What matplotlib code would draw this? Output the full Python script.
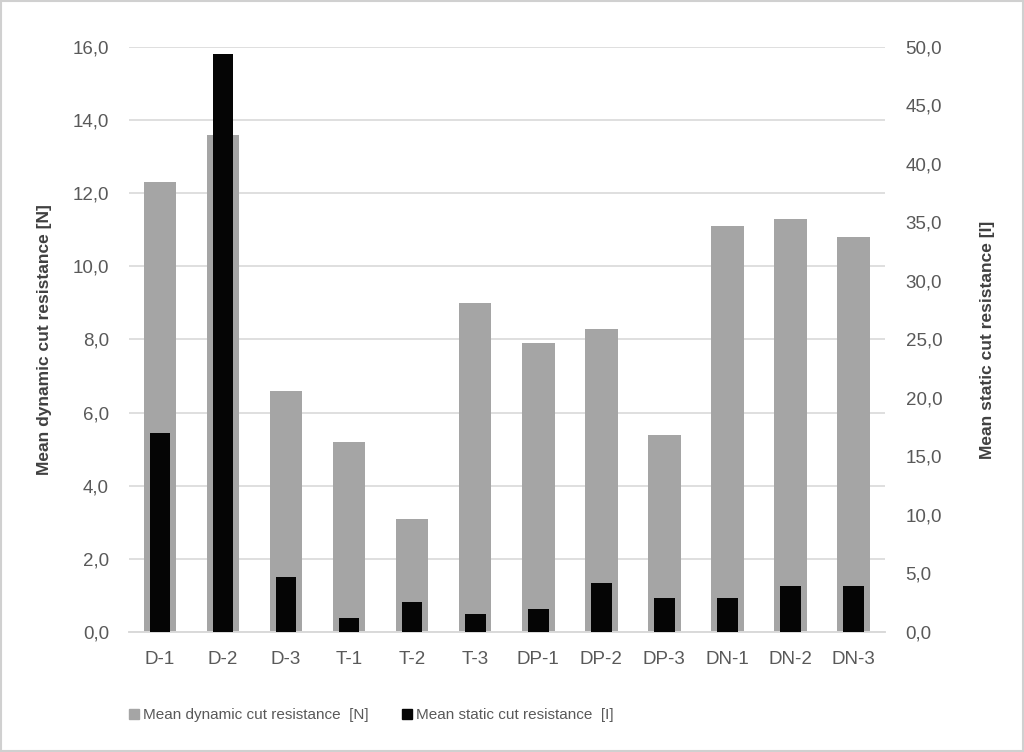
import numpy as np
import matplotlib.pyplot as plt
from matplotlib.ticker import FuncFormatter, MultipleLocator
from matplotlib.patches import Patch, Rectangle

plt.rcParams['font.family'] = ['Liberation Sans', 'DejaVu Sans']

#Data
samples = ['D-1', 'D-2', 'D-3', 'T-1', 'T-2', 'T-3', 'DP-1', 'DP-2', 'DP-3', 'DN-1', 'DN-2', 'DN-3']
dynamic_N = [12.3, 13.6, 6.6, 5.2, 3.1, 9.0, 7.9, 8.3, 5.4, 11.1, 11.3, 10.8]
static_I = [17.0, 49.4, 4.7, 1.2, 2.6, 1.5, 2.0, 4.2, 2.9, 2.9, 3.9, 3.9]

gray = '#a5a5a5'
txt = '#595959'

def comma_fmt(v, pos):
    return f'{v:.1f}'.replace('.', ',')

fig = plt.figure(figsize=(10.24, 7.52), dpi=100)
ax = fig.add_axes([0.1255, 0.1596, 0.7385, 0.7779])
ax2 = ax.twinx()

x = np.arange(len(samples))
ax.bar(x, dynamic_N, width=0.52, color=gray, zorder=2)
ax2.bar(x, static_I, width=0.33, color='#050505', zorder=3)

ax.set_xlim(-0.5, len(samples) - 0.5)
ax.set_ylim(0, 16)
ax2.set_ylim(0, 50)
ax.yaxis.set_major_locator(MultipleLocator(2))
ax2.yaxis.set_major_locator(MultipleLocator(5))
ax.yaxis.set_major_formatter(FuncFormatter(comma_fmt))
ax2.yaxis.set_major_formatter(FuncFormatter(comma_fmt))

ax.grid(axis='y', color='#d9d9d9', linewidth=1.2, zorder=0)
ax.set_axisbelow(True)
ax.set_xticks(x)
ax.set_xticklabels(samples)

for a in (ax, ax2):
    for side in ['top', 'left', 'right']:
        a.spines[side].set_visible(False)
    a.spines['bottom'].set_color('#d9d9d9')
    a.spines['bottom'].set_linewidth(1.2)
    a.tick_params(length=0, labelsize=13.5, labelcolor=txt)
ax.tick_params(axis='y', pad=14)
ax2.tick_params(axis='y', pad=15)
ax.tick_params(axis='x', pad=14)

ax.set_ylabel('Mean dynamic cut resistance [N]', fontsize=12.5, fontweight='bold', color='#404040', labelpad=15)
ax2.set_ylabel('Mean static cut resistance [I]', fontsize=12.5, fontweight='bold', color='#404040', labelpad=27)

#Legend below the axes
handles = [Patch(color=gray, label='Mean dynamic cut resistance  [N]'),
           Patch(color='#050505', label='Mean static cut resistance  [I]')]
fig.legend(handles=handles, loc='center left', bbox_to_anchor=(0.113, 0.049), ncol=2, frameon=False,
           fontsize=11, labelcolor=txt, handlelength=0.6, handleheight=0.6, handletextpad=0.3,
           columnspacing=2.2)

#Chart frame
fig.patches.append(Rectangle((0.001, 0.001), 0.998, 0.998, transform=fig.transFigure,
                             fill=False, edgecolor='#d0d0d0', linewidth=1.5))

fig.savefig('out.png', dpi=100)
